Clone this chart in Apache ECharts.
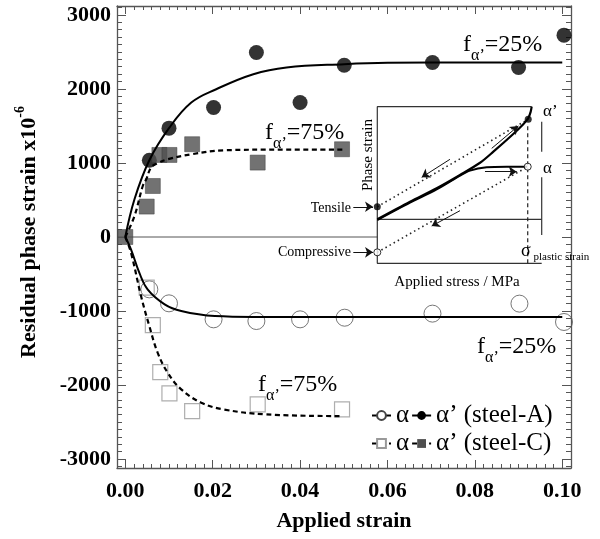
<!DOCTYPE html>
<html>
<head>
<meta charset="utf-8">
<script src="https://cdn.jsdelivr.net/npm/echarts@6/dist/echarts.min.js"></script>
<style>
  html, body { margin: 0; padding: 0; background: #fff; }
  #chart { width: 600px; height: 539px; }
</style>
</head>
<body>
<div id="chart"></div>
<script>
// Residual phase strain (x10^-6) measured after straining, two steels
const steelA_alpha      = [[0.0055,-707],[0.0100,-896],[0.0202,-1112],[0.0300,-1135],[0.0400,-1112],[0.0502,-1090],[0.0703,-1035],[0.0902,-900],[0.1004,-1148]];
const steelA_alphaPrime = [[0.0055,1036],[0.0100,1470],[0.0202,1750],[0.0300,2492],[0.0400,1816],[0.0501,2320],[0.0703,2357],[0.0900,2289],[0.1004,2726]];
const steelC_alpha      = [[0.0049,-684],[0.0063,-1189],[0.0080,-1824],[0.0101,-2112],[0.0153,-2351],[0.0303,-2261],[0.0496,-2328]];
const steelC_alphaPrime = [[0.0000,0],[0.0049,411],[0.0063,689],[0.0078,1108],[0.0101,1108],[0.0153,1253],[0.0303,1005],[0.0496,1185]];

// Fitted trend curves (fα' = 25 % for steel-A, 75 % for steel-C)
const fitA_alphaPrime = [[0,0],[0.0021,509],[0.0055,1036],[0.0100,1470],[0.0151,1816],[0.0208,1996],[0.0293,2199],[0.0369,2289],[0.0501,2334],[0.0600,2352],[0.0800,2357],[0.1000,2357]];
const fitA_alpha      = [[0,0],[0.0013,-166],[0.0032,-481],[0.0051,-707],[0.0090,-909],[0.0128,-1000],[0.0205,-1068],[0.0300,-1080],[0.0500,-1081],[0.0750,-1081],[0.1000,-1081]];
const fitC_alphaPrime = [[0,0],[0.0021,284],[0.0040,689],[0.0048,780],[0.0059,938],[0.0074,996],[0.0097,1050],[0.0151,1117],[0.0228,1172],[0.0350,1180],[0.0500,1180]];
const fitC_alpha      = [[0,0],[0.0013,-211],[0.0036,-797],[0.0055,-1203],[0.0074,-1562],[0.0097,-1832],[0.0128,-2058],[0.0174,-2238],[0.0224,-2328],[0.0323,-2396],[0.0492,-2419]];

// Zero reference line, running up to the inset
const zeroLine = [[-0.0019,0],[0.0577,0]];

// Axis ticks
const xMajor = [0, 0.02, 0.04, 0.06, 0.08, 0.10];
const yMajor = [-3000, -2000, -1000, 0, 1000, 2000, 3000];
const xMinor = [];
for (let i = 0; i <= 50; i++) xMinor.push(+(i * 0.002).toFixed(3));
const yMinor = [];
for (let v = -3100; v <= 3100; v += 100) yMinor.push(v);

// Schematic inset (arbitrary units 0..100): phase strain vs applied stress
const insetFrame       = [[93.9,100],[0,100],[0,0],[100,0]];
const insetZero        = [[0,28.1],[100,28.1]];
const insetRuleUpper   = [[100,90.4],[100,71.3]];
const insetRuleLower   = [[100,54.9],[100,18.1]];
const insetSigma       = [[91.5,0],[91.5,89.4]];
const insetUnloadPrime = [[0,36.1],[91.8,92.0]];
const insetUnloadAlpha = [[0,7.0],[91.5,61.7]];
const insetCurvePrime  = [[0,28.1],[19.9,39.3],[36.1,47.9],[50.3,56.4],[62.5,64.2],[70.6,71.3],[82.7,82.6],[88.8,88.8],[91.8,92.6],[93.3,96.8],[93.9,100]];
const insetCurveAlpha  = [[0,27.6],[19.9,38.7],[36.1,47.2],[50.3,56.0],[56.4,59.2],[66.5,61.3],[78.7,61.7],[91.2,61.7]];
const insetArrows = [
  [[69.6,73.4],[85.8,87.7]],
  [[44.2,66.4],[27.0,54.9]],
  [[65.5,58.5],[84.8,58.5]],
  [[50.3,33.6],[33.1,23.8]],
  [[-14.6,36.1],[-2.6,36.1]],
  [[-14.6,7.0],[-2.6,7.0]]
];
const insetFilledPts = [[0,36.1],[91.8,92.0]];
const insetOpenPts   = [[0,7.0],[91.5,61.7]];

const SERIF = "'Liberation Serif','DejaVu Serif',serif";
const FRAME = '#555';

const chart = echarts.init(document.getElementById('chart'), null, { renderer: 'canvas' });

function valueAxis(dim, pos, ticks, len, showLine, labels, extra) {
  const ax = {
    type: 'value',
    gridIndex: 0,
    position: pos,
    min: dim === 'x' ? -0.0019 : -3120,
    max: dim === 'x' ? 0.102 : 3120,
    axisLine: { show: showLine, onZero: false, lineStyle: { color: FRAME, width: 1.3 } },
    axisTick: { show: true, inside: true, length: len, customValues: ticks, lineStyle: { color: FRAME, width: 1 } },
    axisLabel: labels ? labels : { show: false },
    splitLine: { show: false },
    minorTick: { show: false }
  };
  return Object.assign(ax, extra || {});
}

const xLabels = {
  show: true, customValues: xMajor, margin: 12,
  formatter: v => v.toFixed(2),
  fontFamily: SERIF, fontWeight: 'bold', fontSize: 22, color: '#000'
};
const yLabels = {
  show: true, customValues: yMajor, margin: 6,
  formatter: v => String(Math.round(v)),
  fontFamily: SERIF, fontWeight: 'bold', fontSize: 22, color: '#000'
};

function fLabel(pct) {
  return '{f|f}{s|α’}{f|=' + pct + '}';
}
const fRich = {
  f: { fontFamily: SERIF, fontSize: 24, color: '#000', lineHeight: 24, verticalAlign: 'middle' },
  s: { fontFamily: SERIF, fontSize: 16, color: '#000', lineHeight: 37, verticalAlign: 'bottom' }
};
function annot(x, y, pct) {
  return { type: 'text', x: x, y: y, z: 50,
    style: { text: fLabel(pct), rich: fRich, align: 'left', verticalAlign: 'middle' } };
}
function plainText(x, y, text, size, align, rot) {
  return { type: 'text', x: x, y: y, rotation: rot || 0, z: 50,
    style: { text: text, fontFamily: SERIF, fontSize: size, fill: '#000', align: align, verticalAlign: 'middle' } };
}

const insetAxisX = { type: 'value', gridIndex: 1, min: 0, max: 100, show: false };
const insetAxisY = { type: 'value', gridIndex: 1, min: 0, max: 100, show: false };

function insetLine(data, style, extra) {
  return Object.assign({
    type: 'line', xAxisIndex: 4, yAxisIndex: 4, data: data, symbol: 'none',
    silent: true, clip: false, animation: false,
    lineStyle: Object.assign({ color: '#111', width: 1.2 }, style)
  }, extra || {});
}

const legendText = { fontFamily: SERIF, fontSize: 25, color: '#000' };
const legendFmt = n => (n.indexOf('α (') === 0 ? 'α' : n);

function fitSeries(name, data, symbol, symColor, dash, width) {
  return {
    type: 'line', name: name, data: data, smooth: 0.4,
    showSymbol: false, symbol: symbol, itemStyle: { color: symColor },
    lineStyle: { color: '#000', width: width, type: dash }, z: 3
  };
}

const option = {
  backgroundColor: '#fff',
  animation: false,
  grid: [
    { left: 117, top: 6, width: 454, height: 462, containLabel: false },
    { left: 377.3, top: 106.7, width: 164.4, height: 156.6, containLabel: false }
  ],
  xAxis: [
    valueAxis('x', 'bottom', xMajor, 8, true, xLabels, {
      name: 'Applied strain', nameLocation: 'middle', nameGap: 42,
      nameTextStyle: { fontFamily: SERIF, fontWeight: 'bold', fontSize: 22, color: '#000' }
    }),
    valueAxis('x', 'bottom', xMinor, 4, false, null),
    valueAxis('x', 'top', xMajor, 8, true, null),
    valueAxis('x', 'top', xMinor, 4, false, null),
    insetAxisX
  ],
  yAxis: [
    valueAxis('y', 'left', yMajor, 9, true, yLabels),
    valueAxis('y', 'left', yMinor, 5, false, null),
    valueAxis('y', 'right', yMajor, 9, true, null),
    valueAxis('y', 'right', yMinor, 5, false, null),
    insetAxisY
  ],
  legend: [
    {
      left: 371, top: 403, orient: 'horizontal', selectedMode: false, padding: 0,
      itemWidth: 19, itemHeight: 11, itemGap: 2,
      data: ['α (A)', 'α’ (steel-A)'], formatter: legendFmt, textStyle: legendText
    },
    {
      left: 371, top: 431, orient: 'horizontal', selectedMode: false, padding: 0,
      itemWidth: 19, itemHeight: 11, itemGap: 2,
      data: ['α (C)', 'α’ (steel-C)'], formatter: legendFmt, textStyle: legendText
    }
  ],
  series: [
    {
      type: 'line', name: 'zero', data: zeroLine, symbol: 'none', silent: true,
      lineStyle: { color: FRAME, width: 1 }, z: 1
    },
    {
      type: 'scatter', name: 'α steel-A points', data: steelA_alpha,
      symbol: 'circle', symbolSize: 17,
      itemStyle: { color: 'rgba(255,255,255,0)', borderColor: '#555', borderWidth: 1 }, z: 2
    },
    {
      type: 'scatter', name: 'α’ steel-A points', data: steelA_alphaPrime,
      symbol: 'circle', symbolSize: 15, itemStyle: { color: '#000' }, z: 2
    },
    {
      type: 'scatter', name: 'α steel-C points', data: steelC_alpha,
      symbol: 'rect', symbolSize: 15,
      itemStyle: { color: 'rgba(255,255,255,0)', borderColor: '#9a9a9a', borderWidth: 1.2 }, z: 2
    },
    {
      type: 'scatter', name: 'α’ steel-C points', data: steelC_alphaPrime,
      symbol: 'rect', symbolSize: 15,
      itemStyle: { color: '#4f4f4f', borderColor: '#3a3a3a', borderWidth: 0.6 }, z: 2
    },
    fitSeries('α (A)', fitA_alpha, 'emptyCircle', '#444', 'solid', 2),
    fitSeries('α’ (steel-A)', fitA_alphaPrime, 'circle', '#000', 'solid', 2),
    fitSeries('α (C)', fitC_alpha, 'emptyRect', '#999', [5, 3.5], 2.2),
    fitSeries('α’ (steel-C)', fitC_alphaPrime, 'rect', '#4f4f4f', [5, 3.5], 2.2),

    // inset schematic
    insetLine(insetFrame, { color: '#333', width: 1.2 }),
    insetLine(insetZero, { color: '#333', width: 1.2 }),
    insetLine(insetRuleUpper, { color: '#333', width: 1.2 }),
    insetLine(insetRuleLower, { color: '#333', width: 1.2 }),
    insetLine(insetSigma, { color: '#222', width: 1.2, type: [4, 3] }),
    insetLine(insetUnloadPrime, { color: '#222', width: 1.6, type: [1.5, 3.2] }),
    insetLine(insetUnloadAlpha, { color: '#222', width: 1.6, type: [1.5, 3.2] }),
    insetLine(insetCurveAlpha, { color: '#000', width: 2 }, { smooth: 0.3 }),
    insetLine(insetCurvePrime, { color: '#000', width: 2.2 }, { smooth: 0.3 }),
    {
      type: 'lines', coordinateSystem: 'cartesian2d', xAxisIndex: 4, yAxisIndex: 4,
      silent: true, clip: false, animation: false,
      symbol: ['none', 'arrow'], symbolSize: [0, 8],
      lineStyle: { color: '#111', width: 1, opacity: 1, curveness: 0 },
      data: insetArrows.map(c => ({ coords: c })), z: 5
    },
    {
      type: 'scatter', xAxisIndex: 4, yAxisIndex: 4, data: insetFilledPts, silent: true, clip: false,
      symbol: 'circle', symbolSize: 7, itemStyle: { color: '#000' }, z: 6
    },
    {
      type: 'scatter', xAxisIndex: 4, yAxisIndex: 4, data: insetOpenPts, silent: true, clip: false,
      symbol: 'circle', symbolSize: 7, itemStyle: { color: '#fff', borderColor: '#000', borderWidth: 1 }, z: 6
    }
  ],
  graphic: [
    {
      type: 'text', x: 27, y: 232, rotation: Math.PI / 2, z: 50,
      style: {
        text: '{a|Residual phase strain x10}{s|-6}',
        align: 'center', verticalAlign: 'middle',
        rich: {
          a: { fontFamily: SERIF, fontWeight: 'bold', fontSize: 22, color: '#000', lineHeight: 27, verticalAlign: 'bottom' },
          s: { fontFamily: SERIF, fontWeight: 'bold', fontSize: 14, color: '#000', lineHeight: 27, verticalAlign: 'top' }
        }
      }
    },
    annot(463, 45, '25%'),
    annot(265, 133, '75%'),
    annot(477, 347, '25%'),
    annot(258, 385, '75%'),
    plainText(368, 155, 'Phase strain', 15, 'center', Math.PI / 2),
    plainText(457, 282, 'Applied stress / MPa', 15, 'center'),
    plainText(351, 208, 'Tensile', 14, 'right'),
    plainText(351, 252, 'Compressive', 14, 'right'),
    plainText(543, 112, 'α’', 17, 'left'),
    plainText(543, 169, 'α', 17, 'left'),
    {
      type: 'text', x: 521, y: 251, z: 50,
      style: {
        text: '{s|σ}{p| plastic strain}', align: 'left', verticalAlign: 'middle',
        rich: {
          s: { fontFamily: SERIF, fontSize: 18, color: '#000', lineHeight: 20, verticalAlign: 'middle' },
          p: { fontFamily: SERIF, fontSize: 11, color: '#000', lineHeight: 24, verticalAlign: 'bottom' }
        }
      }
    }
  ]
};

chart.setOption(option);
</script>
</body>
</html>
